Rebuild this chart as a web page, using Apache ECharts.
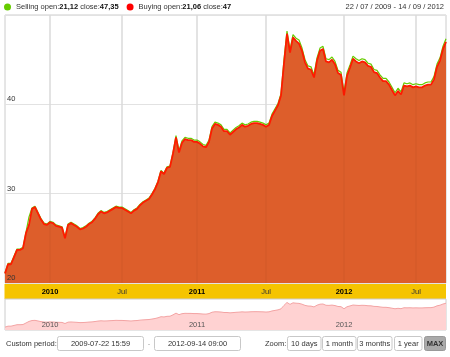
<!DOCTYPE html>
<html>
<head>
<meta charset="utf-8">
<script src="https://cdn.jsdelivr.net/npm/echarts@6/dist/echarts.min.js"></script>
<style>html,body{margin:0;padding:0;background:#fff}#c{width:450px;height:357px}</style>
</head>
<body>
<div id="c"></div>
<script>
const dates = [
'2009-07-22','2009-08-03','2009-08-14','2009-08-25','2009-09-04','2009-09-15','2009-09-25','2009-10-06','2009-10-16','2009-10-27',
'2009-11-06','2009-11-17','2009-11-27','2009-12-08','2009-12-18',
'2010-01-04','2010-01-11','2010-01-18','2010-01-25','2010-02-01','2010-02-08','2010-02-15','2010-02-22','2010-03-01','2010-03-08',
'2010-03-15','2010-03-22','2010-03-29','2010-04-12','2010-04-19','2010-04-26','2010-05-03','2010-05-10','2010-05-17','2010-05-24',
'2010-06-07','2010-06-14','2010-06-21','2010-06-28',
'2010-07-05','2010-07-12','2010-07-19','2010-07-26','2010-08-02','2010-08-09','2010-08-16','2010-08-23','2010-08-30','2010-09-06',
'2010-09-13','2010-09-20','2010-09-27','2010-10-04','2010-10-11','2010-10-18','2010-10-25','2010-11-01','2010-11-08','2010-11-15',
'2010-11-22','2010-11-29','2010-12-06','2010-12-13','2010-12-20',
'2011-01-03','2011-01-10','2011-01-17','2011-01-24','2011-01-31','2011-02-07','2011-02-14','2011-02-21','2011-02-28','2011-03-07',
'2011-03-14','2011-03-21','2011-03-28','2011-04-04','2011-04-11','2011-04-18','2011-05-02','2011-05-09','2011-05-16','2011-05-23',
'2011-06-06','2011-06-13','2011-06-20',
'2011-07-01','2011-07-08','2011-07-15','2011-07-22','2011-07-29','2011-08-05','2011-08-12','2011-08-19','2011-08-26','2011-09-02',
'2011-09-09','2011-09-16','2011-09-23','2011-09-30','2011-10-07','2011-10-14','2011-10-21','2011-10-28','2011-11-04','2011-11-11',
'2011-11-18','2011-11-25','2011-12-02','2011-12-09','2011-12-16','2011-12-23',
'2012-01-02','2012-01-09','2012-01-16','2012-01-23','2012-01-30','2012-02-06','2012-02-13','2012-02-20','2012-02-27','2012-03-05',
'2012-03-12','2012-03-19','2012-03-26','2012-04-02','2012-04-09','2012-04-16','2012-04-23','2012-04-30','2012-05-07','2012-05-14',
'2012-05-21','2012-05-28','2012-06-11','2012-06-25',
'2012-07-02','2012-07-09','2012-07-16','2012-07-23','2012-07-30','2012-08-06','2012-08-13','2012-08-20','2012-08-27','2012-09-03',
'2012-09-14'
];
const selling = [
21.12,22.2,22.2,23.0,23.8,23.8,24.0,25.7,27.4,28.4,
28.6,27.9,27.2,26.7,26.6,26.9,26.8,26.5,26.4,26.3,
25.1,26.6,26.8,26.6,26.4,26.1,26.2,26.4,26.7,26.9,
27.3,27.8,28.1,27.9,28.0,28.2,28.4,28.6,28.5,28.5,
28.3,28.1,27.9,28.2,28.4,28.8,29.1,29.3,29.5,30.0,
30.6,31.4,32.6,32.3,33.0,33.1,34.6,36.5,34.8,35.9,
36.3,36.2,36.2,36.0,36.0,35.8,35.5,35.4,36.0,37.5,
38.0,37.9,37.7,37.2,37.2,36.8,37.1,37.4,37.6,37.9,
37.7,37.8,38.0,38.1,38.1,38.0,37.9,37.7,37.9,38.9,
39.5,40.1,41.2,45.0,48.2,46.1,47.8,47.4,47.2,46.3,
45.0,44.3,44.2,43.3,45.2,46.3,46.5,45.1,45.0,45.3,
44.8,43.8,43.6,41.3,43.5,44.4,45.4,45.1,44.9,45.1,
45.0,44.6,44.5,43.9,43.8,43.3,42.9,42.9,42.5,41.9,
41.3,41.8,41.4,42.4,42.3,42.4,42.2,42.3,42.2,42.2,
42.4,42.5,42.5,43.1,44.5,45.2,46.5,47.35
];
const buying = [
21.06,22.1,22.1,22.9,23.7,23.7,23.9,25.6,26.5,28.3,
28.5,27.8,27.1,26.6,26.5,26.8,26.7,26.4,26.3,26.2,
25.0,26.5,26.7,26.5,26.3,26.0,26.1,26.3,26.6,26.8,
27.2,27.7,28.0,27.8,27.9,28.1,28.3,28.5,28.4,28.4,
28.2,28.0,27.8,28.1,28.3,28.7,29.0,29.2,29.4,29.9,
30.5,31.3,32.5,32.2,32.9,33.0,34.5,36.3,34.6,35.7,
36.1,36.0,36.0,35.8,35.8,35.6,35.3,35.2,35.8,37.3,
37.8,37.7,37.5,37.0,37.0,36.6,36.9,37.2,37.4,37.7,
37.5,37.6,37.8,37.9,37.9,37.8,37.7,37.5,37.7,38.7,
39.3,39.9,41.0,44.6,47.9,45.8,47.5,47.1,46.8,46.0,
44.7,44.0,43.9,43.0,44.9,46.0,46.2,44.8,44.7,45.0,
44.5,43.5,43.3,41.0,43.2,44.1,45.1,44.8,44.6,44.8,
44.7,44.3,44.2,43.6,43.5,43.0,42.6,42.6,42.2,41.6,
41.0,41.5,41.1,42.1,42.0,42.1,41.9,42.0,41.9,41.9,
42.1,42.2,42.2,42.8,44.2,44.9,46.2,47.0
];
const seriesNames = ['Selling', 'Buying'];
const periodTimes = ['15:59', '09:00'];
const zoomButtons = ['10 days', '1 month', '3 months', '1 year', 'MAX'];

const FONT = '"Liberation Sans", Arial, sans-serif';
const FS = 7.5;
const mon = i => dates[i].slice(5, 7);
const isHalfYearTick = i => i > 0 && mon(i) !== mon(i - 1) && (mon(i) === '01' || mon(i) === '07');
const isYearTick = i => i > 0 && mon(i) !== mon(i - 1) && mon(i) === '01';
const fmtNum = v => String(v).replace('.', ',');
const fmtDate = d => d.slice(8, 10) + ' / ' + d.slice(5, 7) + ' / ' + d.slice(0, 4);
const openClose = { Selling: selling, Buying: buying };

const chart = echarts.init(document.getElementById('c'), null, { renderer: 'canvas' });

function box(x, w, label, active) {
  return [
    { type: 'rect', shape: { x: x, y: 336.5, width: w, height: 14, r: 2 },
      style: { fill: active ? '#aaaaaa' : '#ffffff', stroke: active ? '#999999' : '#c8c8c8', lineWidth: 1 } },
    { type: 'text', x: x + w / 2, y: 343.5,
      style: { text: label, fontFamily: FONT, fontSize: FS, fill: '#333333', align: 'center', verticalAlign: 'middle', fontWeight: active ? 'bold' : 'normal' } }
  ];
}
const btnPos = [[287.5, 33.5], [322.5, 33.5], [357.5, 34.5], [394.5, 27.5], [424.5, 21]];
let graphics = [
  { type: 'rect', z: -1, shape: { x: 4.5, y: 284, width: 441.5, height: 15 }, style: { fill: '#F5C400' } },
  { type: 'text', x: 6, y: 343.5, style: { text: 'Custom period:', fontFamily: FONT, fontSize: FS, fill: '#333333', verticalAlign: 'middle' } },
  { type: 'text', x: 149, y: 343.5, style: { text: '-', fontFamily: FONT, fontSize: FS, fill: '#999999', align: 'center', verticalAlign: 'middle' } },
  { type: 'text', x: 265, y: 343.5, style: { text: 'Zoom:', fontFamily: FONT, fontSize: FS, fill: '#333333', verticalAlign: 'middle' } }
];
graphics = graphics.concat(box(57.5, 86, dates[0] + ' ' + periodTimes[0], false));
graphics = graphics.concat(box(154.5, 86, dates[dates.length - 1] + ' ' + periodTimes[1], false));
zoomButtons.forEach((b, k) => { graphics = graphics.concat(box(btnPos[k][0], btnPos[k][1], b, k === zoomButtons.length - 1)); });

chart.setOption({
  animation: false,
  textStyle: { fontFamily: FONT },
  title: {
    text: fmtDate(dates[0]) + ' - ' + fmtDate(dates[dates.length - 1]),
    right: 6, top: 2.5, padding: 0,
    textStyle: { fontSize: FS, fontWeight: 'normal', color: '#333333', fontFamily: FONT }
  },
  legend: {
    left: 4, top: 3, padding: 0, itemGap: 8, itemWidth: 7, itemHeight: 7, icon: 'circle',
    data: [
      { name: seriesNames[0], itemStyle: { color: '#66CC00' } },
      { name: seriesNames[1], itemStyle: { color: '#FF0000' } }
    ],
    formatter: name => {
      const arr = openClose[name];
      return name + ' open:{b|' + fmtNum(arr[0]) + '} close:{b|' + fmtNum(arr[arr.length - 1]) + '}';
    },
    textStyle: { fontSize: FS, color: '#333333', fontFamily: FONT,
      rich: { b: { fontWeight: 'bold', fontSize: FS, color: '#111111', fontFamily: FONT } } }
  },
  graphic: graphics,
  grid: [
    { left: 5, top: 15, width: 441, height: 268, show: true, borderColor: '#cccccc', borderWidth: 1, backgroundColor: '#ffffff' },
    { left: 5, top: 299, width: 441, height: 31, show: true, borderColor: '#cccccc', borderWidth: 1 }
  ],
  xAxis: [
    { type: 'category', gridIndex: 0, data: dates, boundaryGap: false, z: 5,
      axisLine: { show: false }, axisTick: { show: false },
      axisLabel: { interval: (i) => isHalfYearTick(i), margin: 9, verticalAlign: 'middle',
        formatter: (v) => v.slice(5, 7) === '01' ? '{y|' + v.slice(0, 4) + '}' : '{m|Jul}',
        rich: { y: { fontWeight: 'bold', color: '#000000', fontSize: FS, fontFamily: FONT },
                m: { color: '#333333', fontSize: FS, fontFamily: FONT } } },
      splitLine: { show: false } },
    { type: 'category', gridIndex: 1, data: dates, boundaryGap: false, z: 5,
      axisLine: { show: false }, axisTick: { show: false },
      axisLabel: { inside: true, interval: (i) => isYearTick(i), margin: 5.5, verticalAlign: 'middle',
        formatter: (v) => v.slice(0, 4), color: '#555555', fontSize: FS },
      splitLine: { show: false } },
    { type: 'category', gridIndex: 0, data: dates, boundaryGap: false, z: 0, position: 'bottom',
      axisLine: { show: false }, axisTick: { show: false }, axisLabel: { show: false },
      splitLine: { show: true, interval: (i) => isHalfYearTick(i), lineStyle: { color: '#e2e2e2', width: 1.5 } } },
    { type: 'category', gridIndex: 0, data: dates, boundaryGap: false, z: 4, position: 'bottom',
      axisLine: { show: false }, axisTick: { show: false }, axisLabel: { show: false },
      splitLine: { show: true, interval: (i) => isHalfYearTick(i), lineStyle: { color: 'rgba(0,0,0,0.035)', width: 1.5 } } }
  ],
  yAxis: [
    { type: 'value', gridIndex: 0, min: 20, max: 50, interval: 10, z: 0, position: 'left',
      axisLine: { show: false }, axisTick: { show: false }, axisLabel: { show: false },
      splitLine: { show: true, lineStyle: { color: '#e2e2e2', width: 1 } } },
    { type: 'value', gridIndex: 1, min: 18, max: 52, show: false, splitLine: { show: false } },
    { type: 'value', gridIndex: 0, min: 20, max: 50, interval: 10, z: 5, position: 'left',
      axisLine: { show: false }, axisTick: { show: false },
      axisLabel: { inside: true, margin: 2, verticalAlign: 'bottom', showMaxLabel: false, showMinLabel: true,
        color: '#333333', fontSize: FS, padding: [0, 0, 1, 0] },
      splitLine: { show: false } }
  ],
  series: [
    { name: seriesNames[0], type: 'line', xAxisIndex: 0, yAxisIndex: 0, data: selling, showSymbol: false, symbol: 'none',
      itemStyle: { color: '#66CC00' }, lineStyle: { color: '#66CC00', width: 1.2 } },
    { name: seriesNames[1], type: 'line', xAxisIndex: 0, yAxisIndex: 0, data: buying, showSymbol: false, symbol: 'none',
      itemStyle: { color: '#FF0000' }, lineStyle: { color: '#FF1A00', width: 1.8 },
      areaStyle: { color: '#DD5E2B', opacity: 1 } },
    { name: 'navigator', type: 'line', xAxisIndex: 1, yAxisIndex: 1, data: selling, showSymbol: false, symbol: 'none',
      lineStyle: { color: '#F3A3A3', width: 1 }, areaStyle: { color: '#FFD2D2', opacity: 1 }, silent: true }
  ]
});
</script>
</body>
</html>
